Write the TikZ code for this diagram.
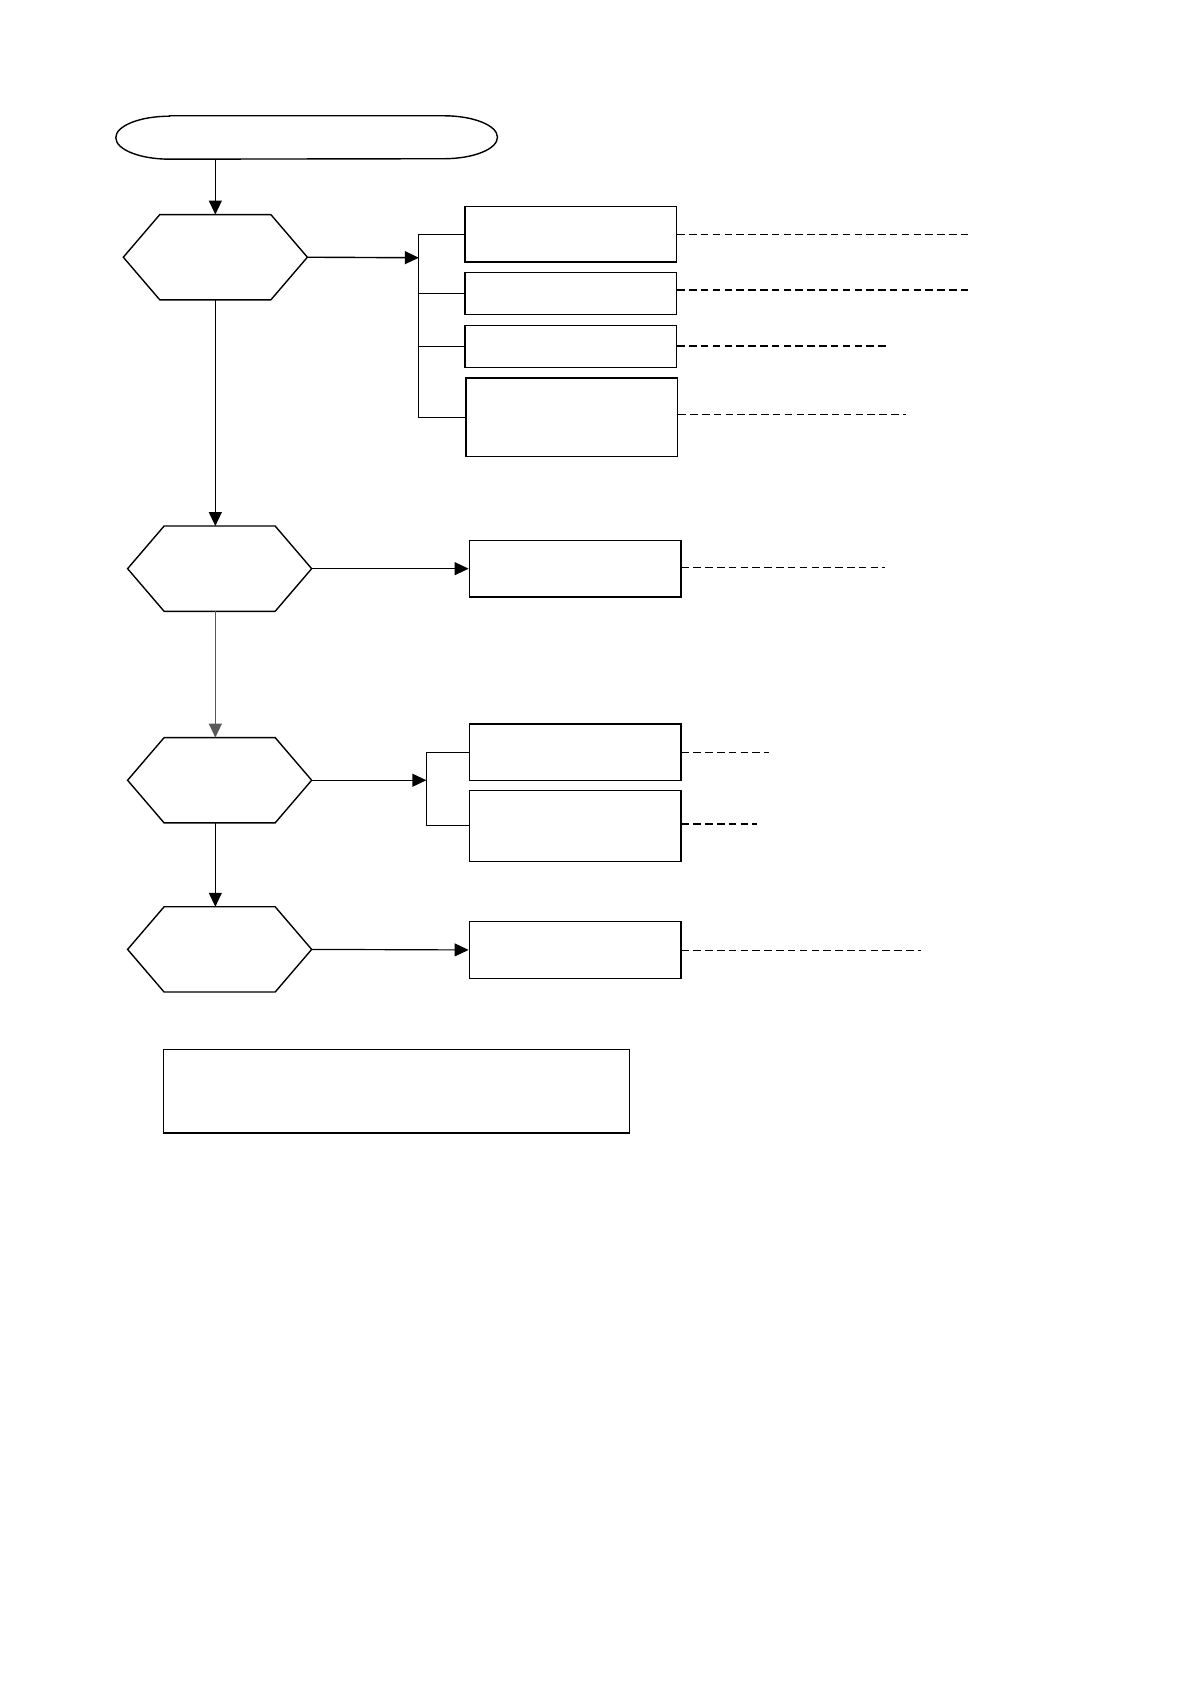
\documentclass[tikz,border=0pt]{standalone}
\usetikzlibrary{arrows.meta,calc}
\begin{document}
\begin{tikzpicture}[x=1pt,y=1pt,
  ln/.style={line width=1.3pt,draw=black},
  box/.style={draw=black,line width=1.3pt,minimum width=197pt,inner sep=0pt,fill=white},
  hexbb/.style={draw=none,minimum width=171pt,minimum height=79pt,inner sep=0pt},
  arr/.style={ln,-{Triangle[length=13pt,width=12pt]}},
  dthin/.style={line width=0.8pt,dash pattern=on 7pt off 4pt},
  dthick/.style={line width=1.9pt,dash pattern=on 7pt off 4pt}]
\useasboundingbox[fill=white] (0,0) rectangle (1109,-1568);
% stadium
\node[draw=none,minimum width=355pt,minimum height=40pt,inner sep=0pt] (st) at (285.5,-128) {};
\draw[ln] ([xshift=50pt]st.north west) -- ([xshift=-50pt]st.north east)
  arc[start angle=90,end angle=-90,x radius=50pt,y radius=20pt]
  -- ([xshift=50pt]st.south west)
  arc[start angle=270,end angle=90,x radius=50pt,y radius=20pt] -- cycle;
% hexagons
\node[hexbb] (h1) at (200.5,-239.5) {};
\node[hexbb] (h2) at (204.5,-529.5) {};
\node[hexbb] (h3) at (204.5,-726.5) {};
\node[hexbb] (h4) at (204.5,-884) {};
\foreach \h in {h1,h2,h3,h4}{
  \draw[ln] (\h.west) -- ([xshift=34pt]\h.north west) -- ([xshift=-34pt]\h.north east)
    -- (\h.east) -- ([xshift=-34pt]\h.south east) -- ([xshift=34pt]\h.south west) -- cycle;
}
% boxes
\node[box,minimum height=52pt] (A) at (531.5,-218) {};
\node[box,minimum height=39pt] (B) at (531.5,-273.5) {};
\node[box,minimum height=39pt] (C) at (531.5,-322.5) {};
\node[box,minimum height=73pt] (D) at (532.5,-388.5) {};
\node[box,minimum height=53pt] (E) at (535.5,-529.5) {};
\node[box,minimum height=53pt] (F) at (535.5,-700.5) {};
\node[box,minimum height=66pt] (G) at (535.5,-769) {};
\node[box,minimum height=53pt] (H) at (535.5,-884.5) {};
\node[box,minimum width=434pt,minimum height=78pt] (I) at (369,-1016) {};
% vertical flow
\draw[arr] (h1.north |- st.south) -- (h1.north);
\draw[arr] (h1.south) -- (h1.south |- h2.north);
\draw[arr,draw=black!65,line width=1.1pt] (h1.south |- h2.south) -- (h1.south |- h3.north);
\draw[arr] (h1.south |- h3.south) -- (h1.south |- h4.north);
% bracket 1
\coordinate (br1) at (390,-240);
\draw[arr] (h1.east) -- (br1);
\draw[ln,line width=1.1pt] (A.west) -| (br1) |- (D.west);
\draw[ln,line width=1.1pt] (B.west) -- (B.west -| br1);
\draw[ln,line width=1.1pt] (C.west) -- (C.west -| br1);
% hex2 -> E
\draw[arr,line width=1.1pt] (h2.east) -- (E.west);
% bracket 2
\coordinate (br2) at (397,-726.5);
\draw[arr,line width=1.1pt] (h3.east) -- (br2);
\draw[ln,line width=1.1pt] (F.west) -| (br2) |- (G.west);
% hex4 -> H
\draw[arr,line width=1.1pt] (h4.east) -- (H.west);
% dashed leaders
\draw[dthin] (A.east) -- ++(271,0);
\draw[dthick] (B.east) ++(0,3.5) -- ++(271,0);
\draw[dthick] (C.east) -- ++(195,0);
\draw[dthin] (D.east) ++(0,2.5) -- ++(212,0);
\draw[dthin] (E.east) ++(0,1.5) -- ++(189,0);
\draw[dthin] (F.east) -- ++(81,0);
\draw[dthick] (G.east) ++(0,2) -- ++(70,0);
\draw[dthin] (H.east) -- ++(223,0);
\end{tikzpicture}
\end{document}
